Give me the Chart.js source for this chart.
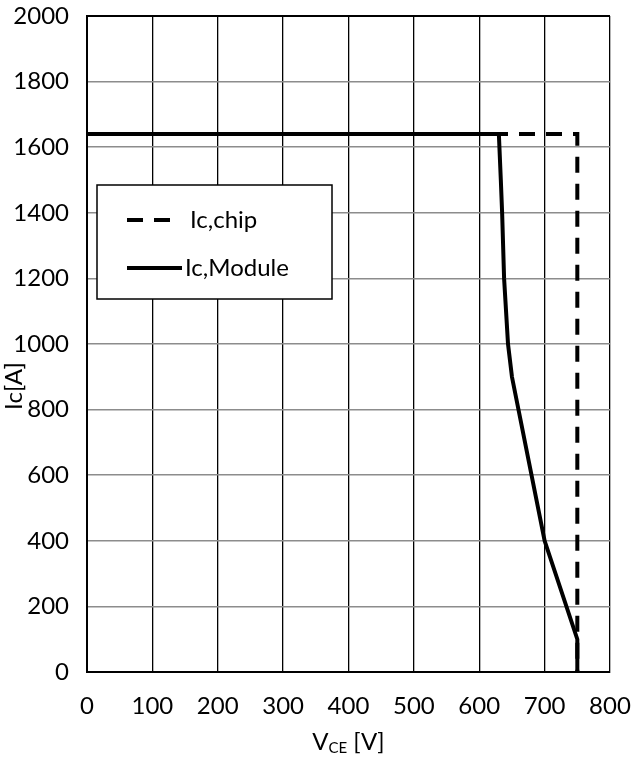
<!DOCTYPE html>
<html>
<head>
<meta charset="utf-8">
<script src="https://cdn.jsdelivr.net/npm/chart.js@4"></script>
<style>
  html, body { margin: 0; padding: 0; background: #fff; }
  #wrap { width: 633px; height: 757px; }
</style>
</head>
<body>
<div id="wrap"><canvas id="c" width="633" height="757"></canvas></div>
<script>
// Collector-emitter voltage [V] and collector current [A]
const chipV = [0, 750, 750];
const chipI = [1640, 1640, 0];
const moduleV = [0, 630, 633, 635, 638, 644, 650, 700, 750, 750];
const moduleI = [1640, 1640, 1500, 1400, 1200, 1000, 900, 400, 100, 0];
const vceTicks = [0, 100, 200, 300, 400, 500, 600, 700, 800];
const icTicks = [0, 200, 400, 600, 800, 1000, 1200, 1400, 1600, 1800, 2000];
const seriesLabels = ['Ic,chip', 'Ic,Module'];

const FONT = 'Lato, "Open Sans", sans-serif';
const FS = 24;
const toXY = (xs, ys) => xs.map((x, i) => ({ x: x, y: ys[i] }));

// Titles and an in-plot legend box
const decorations = {
  id: 'decorations',
  afterDraw(chart) {
    const ctx = chart.ctx;
    ctx.save();
    ctx.fillStyle = '#000';
    // y-axis title
    ctx.font = FS + 'px ' + FONT;
    ctx.translate(14, 386);
    ctx.rotate(-Math.PI / 2);
    ctx.textAlign = 'center';
    ctx.textBaseline = 'middle';
    ctx.fillText('Ic[A]', 0, 0);
    ctx.setTransform(1, 0, 0, 1, 0, 0);

    // x-axis title with subscript
    const big = FS + 'px ' + FONT, small = '15px ' + FONT;
    ctx.font = big; const wV = ctx.measureText('V').width; const wU = ctx.measureText(' [V]').width;
    ctx.font = small; const wS = ctx.measureText('CE').width;
    const cx = (chart.chartArea.left + chart.chartArea.right) / 2;
    let x = cx - (wV + wS + wU) / 2;
    const y = 742;
    ctx.textAlign = 'left';
    ctx.textBaseline = 'middle';
    ctx.font = big; ctx.fillText('V', x, y); x += wV;
    ctx.font = small; ctx.fillText('CE', x, y + 6); x += wS;
    ctx.font = big; ctx.fillText(' [V]', x, y);

    // legend
    const bx = 97, by = 185, bw = 235, bh = 114;
    ctx.fillStyle = '#fff';
    ctx.fillRect(bx, by, bw, bh);
    ctx.strokeStyle = '#000';
    ctx.lineWidth = 1.5;
    ctx.strokeRect(bx, by, bw, bh);
    const rows = [
      { y: 220, x0: 127, x1: 171, tx: 190 },
      { y: 268, x0: 127, x1: 182, tx: 185 }
    ];
    chart.data.datasets.forEach((ds, i) => {
      const r = rows[i];
      ctx.beginPath();
      ctx.setLineDash(ds.borderDash || []);
      ctx.lineWidth = ds.borderWidth;
      ctx.strokeStyle = ds.borderColor;
      ctx.lineCap = 'butt';
      ctx.moveTo(r.x0, r.y);
      ctx.lineTo(r.x1, r.y);
      ctx.stroke();
      ctx.setLineDash([]);
      ctx.fillStyle = '#000';
      ctx.font = FS + 'px ' + FONT;
      ctx.textAlign = 'left';
      ctx.textBaseline = 'middle';
      ctx.fillText(ds.label, r.tx, r.y);
    });
    ctx.restore();
  }
};

new Chart(document.getElementById('c'), {
  type: 'line',
  data: {
    datasets: [
      {
        label: seriesLabels[0],
        data: toXY(chipV, chipI),
        borderColor: '#000',
        borderWidth: 4,
        borderDash: [16, 11],
        pointRadius: 0,
        tension: 0,
        fill: false
      },
      {
        label: seriesLabels[1],
        data: toXY(moduleV, moduleI),
        borderColor: '#000',
        borderWidth: 4,
        pointRadius: 0,
        tension: 0,
        fill: false
      }
    ]
  },
  options: {
    responsive: false,
    animation: false,
    layout: { padding: { top: 16, right: 23, left: 0, bottom: 0 } },
    plugins: { legend: { display: false }, tooltip: { enabled: false } },
    scales: {
      x: {
        type: 'linear',
        min: vceTicks[0],
        max: vceTicks[vceTicks.length - 1],
        afterBuildTicks: s => { s.ticks = vceTicks.map(v => ({ value: v })); },
        afterFit: s => { s.height = 85; s.paddingLeft = 0; s.paddingRight = 0; },
        ticks: { color: '#000', font: { family: FONT, size: FS }, padding: 20, maxRotation: 0,
                 callback: v => String(v) },
        grid: { color: '#000', lineWidth: 1.3, drawTicks: false },
        border: { color: '#000', width: 2 }
      },
      y: {
        type: 'linear',
        min: icTicks[0],
        max: icTicks[icTicks.length - 1],
        afterBuildTicks: s => { s.ticks = icTicks.map(v => ({ value: v })); },
        afterFit: s => { s.width = 87; s.paddingTop = 0; s.paddingBottom = 0; },
        ticks: { color: '#000', font: { family: FONT, size: FS }, padding: 18,
                 callback: v => String(v) },
        grid: {
          color: c => (c.tick && (c.tick.value === 2000) ? '#000' : '#8c8c8c'),
          lineWidth: c => (c.tick && (c.tick.value === 2000) ? 2 : 1.5),
          drawTicks: false
        },
        border: { color: '#000', width: 2 }
      }
    }
  },
  plugins: [decorations]
});
</script>
</body>
</html>
